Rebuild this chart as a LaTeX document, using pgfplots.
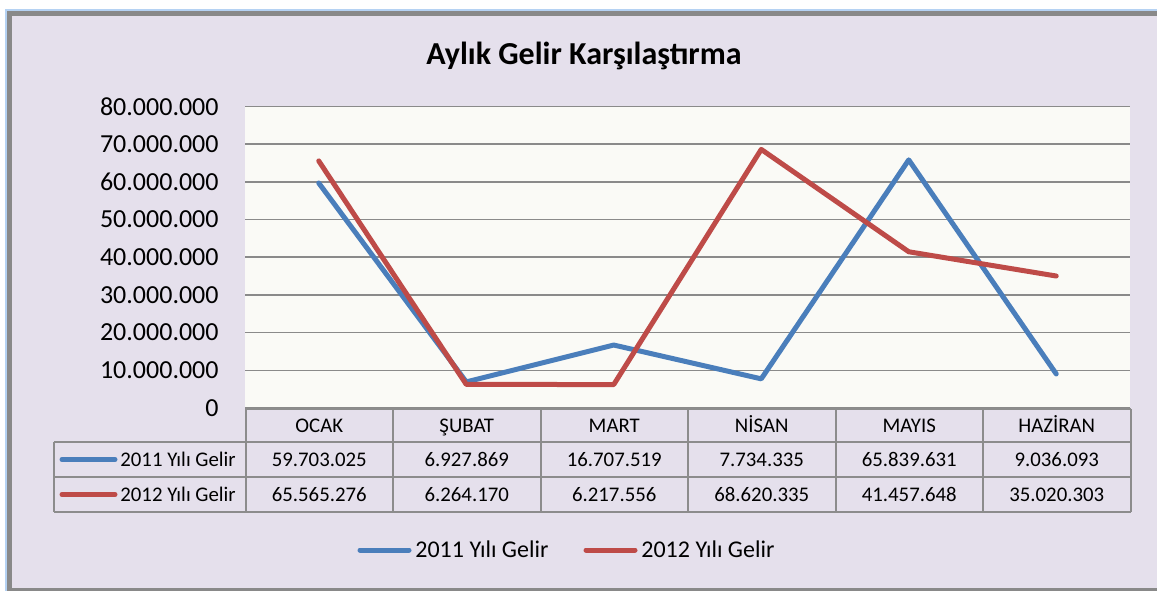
\documentclass[border=0pt]{standalone}
\usepackage{fontspec}
\setmainfont{Carlito}
\usepackage{pgfplots}
\pgfplotsset{compat=1.18}
\definecolor{bgLav}{HTML}{E5E0EC}
\definecolor{plotBg}{HTML}{FAFAF6}
\definecolor{frameGray}{HTML}{898989}
\definecolor{glowBlue}{HTML}{B5D2F3}
\definecolor{gridGray}{HTML}{8A8A8A}
\definecolor{tabGray}{HTML}{8C8C8C}
\definecolor{s2011}{HTML}{4A7EBB}
\definecolor{s2012}{HTML}{BE4B48}

\begin{document}
\begin{tikzpicture}
\useasboundingbox (0,0) rectangle (578.5pt,295pt);
% frame and background (px coordinates, y downwards)
\begin{scope}[x=0.5pt,y=-0.5pt,yshift=295pt]
  \fill[white] (0,0) rectangle (1157,590);
  \draw[glowBlue, line width=5pt] (9.5,14) rectangle (1162,592);
  \fill[bgLav] (9.5,14) rectangle (1160,590);
  \draw[frameGray, line width=2.5pt] (9.5,14) rectangle (1160,590);
  \node[font=\fontsize{16}{18}\selectfont\bfseries, anchor=base] at (584,65) {Aylık Gelir Karşılaştırma};
\end{scope}

\begin{axis}[
    at={(122.5pt,91pt)}, anchor=south west,
    width=442.5pt, height=150.75pt, scale only axis,
    xmin=-0.5, xmax=5.5, xtick=\empty,
    ymin=0, ymax=80000000,
    ytick={0,10000000,20000000,30000000,40000000,50000000,60000000,70000000,80000000},
    scaled y ticks=false,
    yticklabel={\pgfmathprintnumber{\tick}},
    /pgf/number format/.cd, fixed, precision=0, 1000 sep={.}, assume math mode=true,
    /pgfplots/.cd,
    yticklabel style={font=\fontsize{13}{15}\selectfont, inner sep=0pt, xshift=-13pt},
    major tick length=0pt,
    axis line style={draw=none},
    ymajorgrids, grid style={gridGray, line width=0.8pt},
    axis background/.style={fill=plotBg},
    clip=false,
]
\addplot[s2011, line width=2.5pt, line join=round, line cap=round] coordinates {
    (0,59703025)(1,6927869)(2,16707519)(3,7734335)(4,65839631)(5,9036093)
};
\addplot[s2012, line width=2.5pt, line join=round, line cap=round] coordinates {
    (0,65565276)(1,6264170)(2,6217556)(3,68620335)(4,41457648)(5,35020303)
};
\end{axis}

% data table and legend
\begin{scope}[x=0.5pt,y=-0.5pt,yshift=295pt]
  \begin{scope}[tabGray, line width=1pt]
    \draw (245.5,409) -- (1130.5,409);
    \draw (54,442) -- (1130.5,442);
    \draw (54,477) -- (1130.5,477);
    \draw (54,512) -- (1130.5,512);
    \draw (54,442) -- (54,512);
    \foreach \xx in {245.5,393,540.5,688,835.5,983,1130.5}
      \draw (\xx,409) -- (\xx,512);
  \end{scope}
  \begin{scope}[font=\fontsize{10.4}{12}\selectfont]
    \foreach \lab [count=\i from 0] in {OCAK,ŞUBAT,MART,NİSAN,MAYIS,HAZİRAN}
      \node[anchor=base] at ({319.25+147.5*\i},432) {\lab};
    \foreach \val [count=\i from 0] in {59.703.025,6.927.869,16.707.519,7.734.335,65.839.631,9.036.093}
      \node[anchor=base] at ({319.25+147.5*\i},466) {\val};
    \foreach \val [count=\i from 0] in {65.565.276,6.264.170,6.217.556,68.620.335,41.457.648,35.020.303}
      \node[anchor=base] at ({319.25+147.5*\i},501) {\val};
    \draw[s2011, line width=2.5pt, line cap=round] (62,459.5) -- (115,459.5);
    \draw[s2012, line width=2.5pt, line cap=round] (62,494.5) -- (115,494.5);
    \node[anchor=base west, inner sep=0pt] at (120,466) {2011 Yılı Gelir};
    \node[anchor=base west, inner sep=0pt] at (120,501) {2012 Yılı Gelir};
  \end{scope}
  \begin{scope}[font=\fontsize{12}{14}\selectfont]
    \draw[s2011, line width=2.5pt, line cap=round] (360,550) -- (409,550);
    \draw[s2012, line width=2.5pt, line cap=round] (586,550) -- (635,550);
    \node[anchor=base west, inner sep=0pt] at (415,557) {2011 Yılı Gelir};
    \node[anchor=base west, inner sep=0pt] at (641,557) {2012 Yılı Gelir};
  \end{scope}
\end{scope}
\end{tikzpicture}
\end{document}
